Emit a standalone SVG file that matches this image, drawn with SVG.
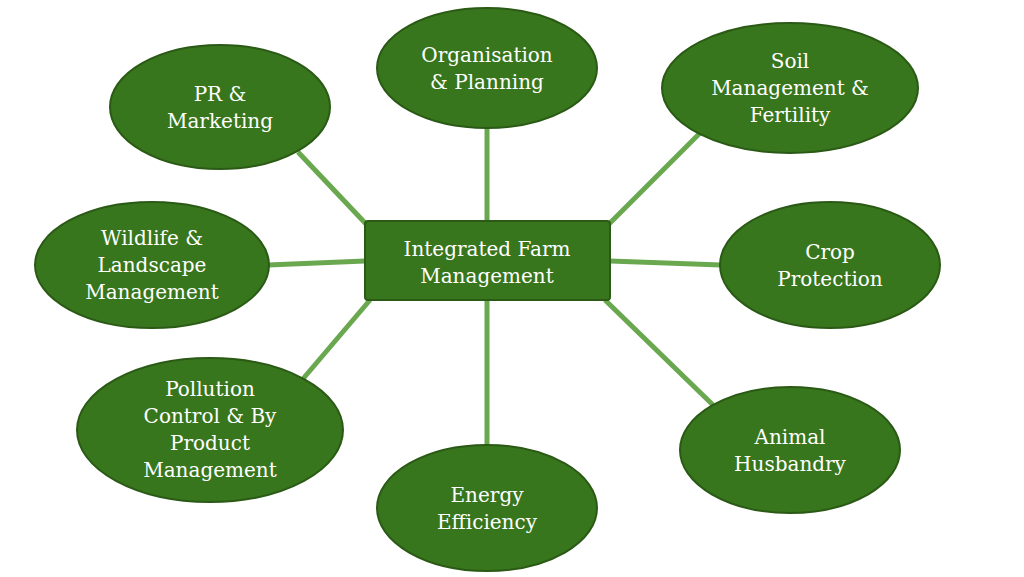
<svg xmlns="http://www.w3.org/2000/svg" width="1024" height="577" viewBox="0 0 1024 577">
<style>
.n{fill:#38761d;stroke:#2a5a15;stroke-width:2}
.t{fill:#fff;font-family:"DejaVu Serif","Liberation Serif",serif;font-size:20px;text-anchor:middle}
.c{stroke:#6aa84f;stroke-width:5}
</style>
<rect width="1024" height="577" fill="#fff"/>
<g id="connectors" class="c">
<line x1="487" y1="221" x2="487" y2="128"/>
<line x1="367" y1="225" x2="298" y2="152"/>
<line x1="608" y1="225" x2="700" y2="133"/>
<line x1="365" y1="261" x2="268" y2="265"/>
<line x1="610" y1="261" x2="721" y2="265"/>
<line x1="370" y1="300" x2="302" y2="380"/>
<line x1="487" y1="300" x2="487" y2="445"/>
<line x1="605" y1="300" x2="713" y2="405"/>
</g>
<g id="center"><rect class="n" x="365" y="221" width="245" height="79" rx="3"/><text class="t" x="487" y="256">Integrated Farm</text><text class="t" x="487" y="283">Management</text></g>
<g id="org"><ellipse class="n" cx="487" cy="68" rx="110" ry="60"/><text class="t" x="487" y="62">Organisation</text><text class="t" x="487" y="89">&amp; Planning</text></g>
<g id="pr"><ellipse class="n" cx="220" cy="107" rx="110" ry="62"/><text class="t" x="220" y="101">PR &amp;</text><text class="t" x="220" y="128">Marketing</text></g>
<g id="soil"><ellipse class="n" cx="790" cy="88" rx="128" ry="65"/><text class="t" x="790" y="68">Soil</text><text class="t" x="790" y="95">Management &amp;</text><text class="t" x="790" y="122">Fertility</text></g>
<g id="wild"><ellipse class="n" cx="152" cy="265" rx="117" ry="63"/><text class="t" x="152" y="245">Wildlife &amp;</text><text class="t" x="152" y="272">Landscape</text><text class="t" x="152" y="299">Management</text></g>
<g id="crop"><ellipse class="n" cx="830" cy="265" rx="110" ry="63"/><text class="t" x="830" y="259">Crop</text><text class="t" x="830" y="286">Protection</text></g>
<g id="poll"><ellipse class="n" cx="210" cy="430" rx="133" ry="72"/><text class="t" x="210" y="396">Pollution</text><text class="t" x="210" y="423">Control &amp; By</text><text class="t" x="210" y="450">Product</text><text class="t" x="210" y="477">Management</text></g>
<g id="energy"><ellipse class="n" cx="487" cy="508" rx="110" ry="63"/><text class="t" x="487" y="502">Energy</text><text class="t" x="487" y="529">Efficiency</text></g>
<g id="animal"><ellipse class="n" cx="790" cy="450" rx="110" ry="63"/><text class="t" x="790" y="444">Animal</text><text class="t" x="790" y="471">Husbandry</text></g>
</svg>
